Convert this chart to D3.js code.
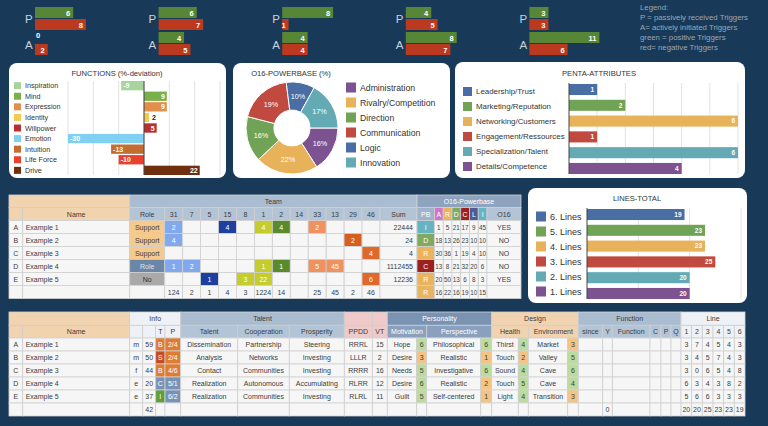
<!DOCTYPE html>
<html lang="en"><head>
<meta charset="utf-8">
<title>Profile dashboard</title>
<script src="https://cdn.jsdelivr.net/npm/d3@7"></script>
<style>
  body { margin: 0; background: #183a58; }
  text { font-family: "Liberation Sans", Arial, sans-serif; }
</style>
</head>
<body>
<svg id="board" width="768" height="426"></svg>
<script>
// ---- data ----
const trigPpos = [6, 6, 8, 4, 3]
const trigPneg = [8, 7, 1, 5, 3]
const trigApos = [0, 4, 4, 8, 11]
const trigAneg = [2, 5, 4, 7, 6]
const legendLines = ["Legend:", "P = passively received Triggers", "A= actively initiated Triggers",
  "green = positive Triggers", "red= negative Triggers"]

const funcNames = ["Inspiration", "Mind", "Expression", "Identity", "Willpower", "Emotion", "Intuition", "Life Force", "Drive"]
const funcValues = [-9, 9, 9, 2, 5, -30, -13, -10, 22]

const pbNames = ["Administration", "Rivalry/Competition", "Direction", "Communication", "Logic", "Innovation"]
const pbShares = [16, 22, 16, 19, 10, 17]

const pentaNames = ["Leadership/Trust", "Marketing/Reputation", "Networking/Customers", "Engagement/Ressources", "Specialization/Talent", "Details/Competence"]
const pentaValues = [1, 2, 6, 1, 6, 4]

const lineNames = ["6. Lines", "5. Lines", "4. Lines", "3. Lines", "2. Lines", "1. Lines"]
const lineValues = [19, 23, 23, 25, 20, 20]

const letters = ["A", "B", "C", "D", "E"]
const names = ["Example 1", "Example 2", "Example 3", "Example 4", "Example 5"]

const teamCols = ["31", "7", "5", "15", "8", "1", "2", "14", "33", "13", "29", "46"]
const teamRoles = ["Support", "Support", "Support", "Role", "No"]
const teamCells = [
  [2, "", "", 4, "", 4, 4, "", 2, "", "", ""],
  [4, "", "", "", "", "", "", "", "", "", 2, ""],
  ["", "", "", "", "", "", "", "", "", "", "", 4],
  [1, 2, "", "", "", 1, 1, "", 5, 45, "", ""],
  ["", "", 1, "", 3, 22, "", "", "", "", "", 6]
]
const teamSums = ["22444", "24", "4", "1112455", "12236"]
const teamTotals = [124, 2, 1, 4, 3, 1224, 14, "", 25, 45, 2, 46]
const pbCols = ["A", "R", "D", "C", "L", "I"]
const pbLetters = ["I", "D", "R", "C", "R"]
const pbTotalLetter = "R"
const pbValues = [
  [1, 5, 21, 17, 9, 45],
  [18, 13, 26, 23, 10, 10],
  [30, 36, 1, 19, 4, 10],
  [13, 8, 21, 32, 20, 6],
  [20, 50, 13, 6, 8, 3]
]
const pbTotals = [16, 22, 16, 19, 10, 15]
const o16 = ["YES", "NO", "NO", "NO", "YES"]

const gender = ["m", "m", "f", "e", "e"]
const ages = [59, 50, 44, 20, 37]
const ageTotal = 42
const types = ["B", "S", "B", "C", "I"]
const positions = ["2/4", "2/4", "4/6", "5/1", "6/2"]
const talents = ["Dissemination", "Analysis", "Contact", "Realization", "Realization"]
const cooperation = ["Partnership", "Networks", "Communities", "Autonomous", "Communities"]
const prosperity = ["Steering", "Investing", "Investing", "Accumulating", "Investing"]
const ppdd = ["RRRL", "LLLR", "RRRR", "RLRR", "RLRL"]
const vt = [15, 2, 16, 12, 11]
const motivation = ["Hope", "Desire", "Needs", "Desire", "Guilt"]
const motivScore = [6, 3, 5, 6, 5]
const perspective = ["Philosophical", "Realistic", "Investigative", "Realistic", "Self-centered"]
const perspScore = [6, 1, 6, 2, 1]
const health = ["Thirst", "Touch", "Sound", "Touch", "Light"]
const healthScore = [4, 2, 4, 5, 4]
const environment = ["Market", "Valley", "Cave", "Cave", "Transition"]
const envScore = [3, 5, 6, 4, 3]
const yTotal = 0
const lineCounts = [
  [3, 7, 4, 5, 4, 3],
  [3, 4, 5, 7, 4, 3],
  [3, 0, 6, 5, 4, 8],
  [6, 3, 4, 3, 8, 2],
  [5, 6, 6, 3, 3, 3]
]
const lineTotals = [20, 20, 25, 23, 23, 19]

// ---- styles ----
const green = "#578736", red = "#bb3a1f"
const funcColors = ["#a9d39c", "#79b04a", "#e0904a", "#f0cc52", "#b5302e", "#7fd0f2", "#c46d31", "#e8412f", "#70300f"]
const six = ["#7d5290", "#e8b25a", "#71a356", "#c04a40", "#4a6da3", "#64aab5"] // powerbase order
const pentaColors = ["#4a6da3", "#71a356", "#e8b25a", "#c04a40", "#64aab5", "#7d5290"]
const tan = "#f2d3b0", gb = "#aabdd0", gb2 = "#b3c4d6", light = "#eef2f6", pink = "#f0c9c9",
  slate = "#7b93b3", slate2 = "#8aa0bf", cellBg = "#f6f6f6", grid = "#d2d2d2", ink = "#3c3c3c"

const svg = d3.select("#board")

// ---- trigger mini bars ----
const tx = d3.scaleLinear().domain([0, 11]).range([0, 70])
trigPpos.forEach((_, i) => {
  const g = svg.append("g").attr("transform", `translate(${35 + i * 123.6},0)`)
  const rows = [
    { v: trigPpos[i], y: 7, c: green }, { v: trigPneg[i], y: 19, c: red },
    { v: trigApos[i], y: 32, c: green }, { v: trigAneg[i], y: 44, c: red }
  ]
  g.selectAll("rect").data(rows).join("rect")
    .attr("x", 0).attr("y", d => d.y).attr("height", 11)
    .attr("width", d => tx(d.v)).attr("fill", d => d.c)
  g.selectAll("text.v").data(rows).join("text").attr("class", "v")
    .attr("x", d => d.v > 0 ? tx(d.v) - 3 : 1)
    .attr("y", d => d.v > 0 ? d.y + 8.5 : d.y + 6)
    .attr("text-anchor", d => d.v > 0 ? "end" : "start")
    .attr("fill", "#fff").attr("font-size", 7.5).attr("font-weight", "bold")
    .text(d => d.v)
  g.append("text").attr("x", -10).attr("y", 22.5).attr("fill", "#c9d1da").attr("font-size", 11.5)
    .text("P")
  g.append("text").attr("x", -10).attr("y", 48.5).attr("fill", "#c9d1da").attr("font-size", 11.5)
    .text("A")
})
svg.append("g").selectAll("text").data(legendLines).join("text")
  .attr("x", 640).attr("y", (d, i) => 10 + i * 10)
  .attr("fill", "#9aa7b6").attr("font-size", 7.8).text(d => d)

// ---- panels ----
const panels = [[9, 63, 217, 115], [233, 63, 217, 115], [455, 62, 290, 116], [528, 188, 219, 115]]
svg.append("g").selectAll("rect").data(panels).join("rect")
  .attr("x", d => d[0]).attr("y", d => d[1]).attr("width", d => d[2]).attr("height", d => d[3])
  .attr("rx", 8).attr("fill", "#fff")

function title(x, y, t) {
  svg.append("text").attr("x", x).attr("y", y).attr("text-anchor", "middle")
    .attr("font-size", 7.6).attr("fill", "#333").text(t)
}
function legend(g, names, colors, y, x, size, fs) {
  g.selectAll("rect.lg").data(names).join("rect").attr("class", "lg")
    .attr("x", x).attr("y", d => y(d) + y.bandwidth() / 2 - size / 2)
    .attr("width", size).attr("height", size).attr("fill", (d, i) => colors[i])
  g.selectAll("text.lg").data(names).join("text").attr("class", "lg")
    .attr("x", x + size + 4).attr("y", d => y(d) + y.bandwidth() / 2 + fs * 0.36)
    .attr("font-size", fs).attr("fill", "#333").text(d => d)
}

// ---- FUNCTIONS ----
{
  const g = svg.append("g")
  title(117, 76, "FUNCTIONS (%-deviation)")
  const x = d3.scaleLinear().domain([-30, 30]).range([68, 220])
  const y = d3.scaleBand().domain(funcNames).range([81, 175]).paddingInner(0.12)
  g.selectAll("line.gr").data(x.ticks(6)).join("line").attr("class", "gr")
    .attr("x1", d => x(d)).attr("x2", d => x(d)).attr("y1", 81).attr("y2", 175)
    .attr("stroke", "#e2e2e2")
  g.selectAll("rect.b").data(funcValues).join("rect").attr("class", "b")
    .attr("x", d => x(Math.min(0, d))).attr("width", d => Math.abs(x(d) - x(0)))
    .attr("y", (d, i) => y(funcNames[i])).attr("height", y.bandwidth())
    .attr("fill", (d, i) => funcColors[i])
  g.append("line").attr("x1", x(0)).attr("x2", x(0)).attr("y1", 81).attr("y2", 175).attr("stroke", "#444")
  g.selectAll("text.v").data(funcValues).join("text").attr("class", "v")
    .attr("x", d => {
      const w = Math.abs(x(d) - x(0))
      if (w < 8) return x(d) + 3
      return d < 0 ? x(d) + 2 : x(d) - 2
    })
    .attr("text-anchor", d => (Math.abs(x(d) - x(0)) < 8 || d < 0) ? "start" : "end")
    .attr("y", (d, i) => y(funcNames[i]) + y.bandwidth() / 2 + 2.5)
    .attr("font-size", 7).attr("font-weight", "bold")
    .attr("fill", d => Math.abs(x(d) - x(0)) < 8 ? "#222" : "#fff")
    .text(d => d)
  legend(g, funcNames, funcColors, y, 14, 7, 7.2)
}

// ---- O16-POWERBASE donut ----
{
  const g = svg.append("g")
  title(291, 76, "O16-POWERBASE (%)")
  const pie = d3.pie().sort(null).startAngle(Math.PI / 2).endAngle(Math.PI / 2 + 2 * Math.PI)
  const arc = d3.arc().innerRadius(18).outerRadius(46)
  const c = g.append("g").attr("transform", "translate(292,128)")
  const arcs = pie(pbShares)
  c.selectAll("path").data(arcs).join("path").attr("d", arc)
    .attr("fill", (d, i) => six[i]).attr("stroke", "#fff").attr("stroke-width", 1)
  const lab = d3.arc().innerRadius(32).outerRadius(32)
  c.selectAll("text").data(arcs).join("text")
    .attr("transform", d => `translate(${lab.centroid(d)})`)
    .attr("text-anchor", "middle").attr("dy", "0.35em")
    .attr("font-size", 7.2).attr("fill", "#fff").text(d => d.data + "%")
  const y = d3.scaleBand().domain(pbNames).range([80, 170])
  legend(g, pbNames, six, y, 346, 10, 8.7)
}

// ---- PENTA-ATTRIBUTES ----
{
  const g = svg.append("g")
  title(599, 76, "PENTA-ATTRIBUTES")
  const x = d3.scaleLinear().domain([0, 6]).range([569, 738])
  const y = d3.scaleBand().domain(pentaNames).range([84, 174]).paddingInner(0.3)
  g.selectAll("line.gr").data(d3.range(1, 7)).join("line").attr("class", "gr")
    .attr("x1", d => x(d)).attr("x2", d => x(d)).attr("y1", 83).attr("y2", 174).attr("stroke", "#e2e2e2")
  g.selectAll("rect.b").data(pentaValues).join("rect").attr("class", "b")
    .attr("x", x(0)).attr("width", d => x(d) - x(0))
    .attr("y", (d, i) => y(pentaNames[i])).attr("height", y.bandwidth())
    .attr("fill", (d, i) => pentaColors[i])
  g.append("line").attr("x1", x(0)).attr("x2", x(0)).attr("y1", 83).attr("y2", 174).attr("stroke", "#444")
  g.selectAll("text.v").data(pentaValues).join("text").attr("class", "v")
    .attr("x", d => x(d) - 3).attr("text-anchor", "end")
    .attr("y", (d, i) => y(pentaNames[i]) + y.bandwidth() / 2 + 2.3)
    .attr("font-size", 6.5).attr("font-weight", "bold").attr("fill", "#fff").text(d => d)
  const yl = d3.scaleBand().domain(pentaNames).range([84, 174])
  legend(g, pentaNames, pentaColors, yl, 463, 9, 7.9)
}

// ---- LINES-TOTAL ----
{
  const g = svg.append("g")
  title(637, 201, "LINES-TOTAL")
  const x = d3.scaleLinear().domain([0, 30]).range([587, 741])
  const y = d3.scaleBand().domain(lineNames).range([209, 299]).paddingInner(0.3)
  g.selectAll("line.gr").data([10, 20, 30]).join("line").attr("class", "gr")
    .attr("x1", d => x(d)).attr("x2", d => x(d)).attr("y1", 208).attr("y2", 299).attr("stroke", "#e2e2e2")
  g.selectAll("rect.b").data(lineValues).join("rect").attr("class", "b")
    .attr("x", x(0)).attr("width", d => x(d) - x(0))
    .attr("y", (d, i) => y(lineNames[i])).attr("height", y.bandwidth())
    .attr("fill", (d, i) => pentaColors[i])
  g.append("line").attr("x1", x(0)).attr("x2", x(0)).attr("y1", 208).attr("y2", 299).attr("stroke", "#444")
  g.selectAll("text.v").data(lineValues).join("text").attr("class", "v")
    .attr("x", d => x(d) - 3).attr("text-anchor", "end")
    .attr("y", (d, i) => y(lineNames[i]) + y.bandwidth() / 2 + 2.3)
    .attr("font-size", 6.5).attr("font-weight", "bold").attr("fill", "#fff").text(d => d)
  const yl = d3.scaleBand().domain(lineNames).range([209, 299])
  legend(g, lineNames, pentaColors, yl, 536, 10, 9)
}

// ---- table helper ----
function cell(g, x0, x1, y0, y1, fill, txt, color, align, fs) {
  g.append("rect").attr("x", x0).attr("y", y0).attr("width", x1 - x0).attr("height", y1 - y0)
    .attr("fill", fill).attr("stroke", grid).attr("stroke-width", 0.8)
  if (txt === "" || txt === undefined) return
  const a = align || "middle"
  g.append("text")
    .attr("x", a === "start" ? x0 + 3 : a === "end" ? x1 - 4 : (x0 + x1) / 2)
    .attr("y", (y0 + y1) / 2 + 2.5).attr("text-anchor", a)
    .attr("font-size", fs || 7).attr("fill", color || ink).text(txt)
}

// ---- team table ----
{
  const g = svg.append("g")
  const X = Array.from(d3.cumsum([9, 13.7, 107, 35].concat(teamCols.map(() => 17.94), [37, 17.5], pbCols.map(() => 8.75), [34])))
  const Y = [195, 207.5, 220.5, 233.5, 246.5, 259.5, 272.5, 285.5, 298.5]
  const teamColor = { "31": "#82a8ef", "7": "#82a8ef", "5": "#1d40a0", "15": "#1d40a0", "8": "#c4cc2e", "1": "#c4cc2e",
    "2": "#5a8a2b", "14": "#5a8a2b", "33": "#f0925f", "13": "#f0925f", "29": "#d45f1e", "46": "#e0682a" }
  const pbColor = { A: "#d474c6", R: "#e9b360", D: "#80aa60", C: "#9e1f1f", L: "#4f5b93", I: "#66b4c3" }
  const roleStyle = { Support: ["#f6c98c", ink], Role: ["#6b87a8", "#dfe6ef"], No: ["#a9a9a9", "#333"] }
  // header 1
  cell(g, X[0], X[2], Y[0], Y[1], tan, "")
  cell(g, X[2], X[16], Y[0], Y[1], gb, "Team")
  cell(g, X[16], X[24], Y[0], Y[1], "#8ea3bd", "O16-Powerbase", "#fff")
  // header 2
  cell(g, X[0], X[1], Y[1], Y[2], tan, "")
  cell(g, X[1], X[2], Y[1], Y[2], tan, "Name")
  cell(g, X[2], X[3], Y[1], Y[2], gb2, "Role")
  teamCols.forEach((c, j) => cell(g, X[3 + j], X[4 + j], Y[1], Y[2], gb2, c))
  cell(g, X[15], X[16], Y[1], Y[2], gb2, "Sum")
  cell(g, X[16], X[17], Y[1], Y[2], "#9fb4ca", "PB", "#fff")
  pbCols.forEach((c, j) => cell(g, X[17 + j], X[18 + j], Y[1], Y[2], pbColor[c], c, "#fff"))
  cell(g, X[23], X[24], Y[1], Y[2], gb2, "O16")
  // rows
  names.forEach((n, r) => {
    const y0 = Y[2 + r], y1 = Y[3 + r]
    cell(g, X[0], X[1], y0, y1, cellBg, letters[r])
    cell(g, X[1], X[2], y0, y1, cellBg, n, ink, "start")
    const rs = roleStyle[teamRoles[r]]
    cell(g, X[2], X[3], y0, y1, rs[0], teamRoles[r], rs[1])
    teamCells[r].forEach((v, j) => cell(g, X[3 + j], X[4 + j], y0, y1, v === "" ? cellBg : teamColor[teamCols[j]], v, "#fff"))
    cell(g, X[15], X[16], y0, y1, cellBg, teamSums[r], ink, "end")
    cell(g, X[16], X[17], y0, y1, pbColor[pbLetters[r]], pbLetters[r], "#fff")
    pbValues[r].forEach((v, j) => cell(g, X[17 + j], X[18 + j], y0, y1, cellBg, v, ink, "middle", 6.3))
    cell(g, X[23], X[24], y0, y1, cellBg, o16[r])
  })
  const y0 = Y[7], y1 = Y[8]
  cell(g, X[0], X[1], y0, y1, cellBg, "")
  cell(g, X[1], X[2], y0, y1, cellBg, "")
  cell(g, X[2], X[3], y0, y1, cellBg, "")
  teamTotals.forEach((v, j) => cell(g, X[3 + j], X[4 + j], y0, y1, cellBg, v))
  cell(g, X[15], X[16], y0, y1, cellBg, "")
  cell(g, X[16], X[17], y0, y1, pbColor[pbTotalLetter], pbTotalLetter, "#fff")
  pbTotals.forEach((v, j) => cell(g, X[17 + j], X[18 + j], y0, y1, cellBg, v, ink, "middle", 6.3))
  cell(g, X[23], X[24], y0, y1, cellBg, "")
}

// ---- profile table ----
{
  const g = svg.append("g")
  const X = [9, 22.7, 129.7, 142.7, 155.7, 165, 180.7, 237.7, 289.3, 344.3, 372.3, 387.3, 416.7, 426.7, 480.7, 491.7,
    518.3, 528.3, 567.7, 578.3, 602.7, 612.3, 650, 661, 671, 681, 691.7, 702.3, 713, 723.7, 734.3, 745]
  const Y = [312, 325.3, 338, 351, 364, 377, 390, 403, 416]
  const typeColor = { B: "#e07b2f", S: "#c84b22", C: "#7893b8", I: "#5e9e3b" }
  const posColor = { B: "#e07b2f", S: "#e07b2f", C: "#7893b8", I: "#7893b8" }
  const score = v => v >= 4 ? "#bbdc9c" : "#f5c382"
  // header 1
  const h1 = [[0, 2, "", tan], [2, 6, "Info", light], [6, 9, "Talent", gb], [9, 10, "", pink], [10, 11, "", pink],
    [11, 15, "Personality", slate, "#fff"], [15, 19, "Design", tan], [19, 25, "Function", gb], [25, 31, "Line", light]]
  h1.forEach(d => cell(g, X[d[0]], X[d[1]], Y[0], Y[1], d[3], d[2], d[4]))
  const h2 = [[0, 1, "", tan], [1, 2, "Name", tan], [2, 3, "", light], [3, 4, "", light], [4, 5, "T", light], [5, 6, "P", light],
    [6, 7, "Talent", gb2], [7, 8, "Cooperation", gb2], [8, 9, "Prosperity", gb2], [9, 10, "PPDD", pink], [10, 11, "VT", pink],
    [11, 13, "Motivation", slate2, "#fff"], [13, 15, "Perspective", slate2, "#fff"], [15, 17, "Health", tan], [17, 19, "Environment", tan],
    [19, 20, "since", gb2], [20, 21, "Y", gb2], [21, 22, "Function", gb2], [22, 23, "C", gb2], [23, 24, "P", gb2], [24, 25, "Q", gb2]]
  h2.forEach(d => cell(g, X[d[0]], X[d[1]], Y[1], Y[2], d[3], d[2], d[4]))
  d3.range(6).forEach(j => cell(g, X[25 + j], X[26 + j], Y[1], Y[2], light, String(j + 1)))
  names.forEach((n, r) => {
    const y0 = Y[2 + r], y1 = Y[3 + r]
    const c = (a, v, fill, col, al) => cell(g, X[a], X[a + 1], y0, y1, fill || cellBg, v, col, al)
    c(0, letters[r]); c(1, n, null, ink, "start"); c(2, gender[r]); c(3, ages[r])
    c(4, types[r], typeColor[types[r]], "#fff"); c(5, positions[r], posColor[types[r]], "#fff")
    c(6, talents[r]); c(7, cooperation[r]); c(8, prosperity[r]); c(9, ppdd[r]); c(10, vt[r])
    c(11, motivation[r]); c(12, motivScore[r], score(motivScore[r]))
    c(13, perspective[r]); c(14, perspScore[r], score(perspScore[r]))
    c(15, health[r]); c(16, healthScore[r], score(healthScore[r]))
    c(17, environment[r]); c(18, envScore[r], score(envScore[r]))
    for (let k = 19; k < 25; k++) c(k, "")
    lineCounts[r].forEach((v, j) => c(25 + j, v))
  })
  const y0 = Y[7], y1 = Y[8]
  for (let k = 0; k < 25; k++) {
    cell(g, X[k], X[k + 1], y0, y1, cellBg, k === 3 ? ageTotal : k === 20 ? yTotal : "")
  }
  lineTotals.forEach((v, j) => cell(g, X[25 + j], X[26 + j], y0, y1, cellBg, v))
}
</script>
</body>
</html>
